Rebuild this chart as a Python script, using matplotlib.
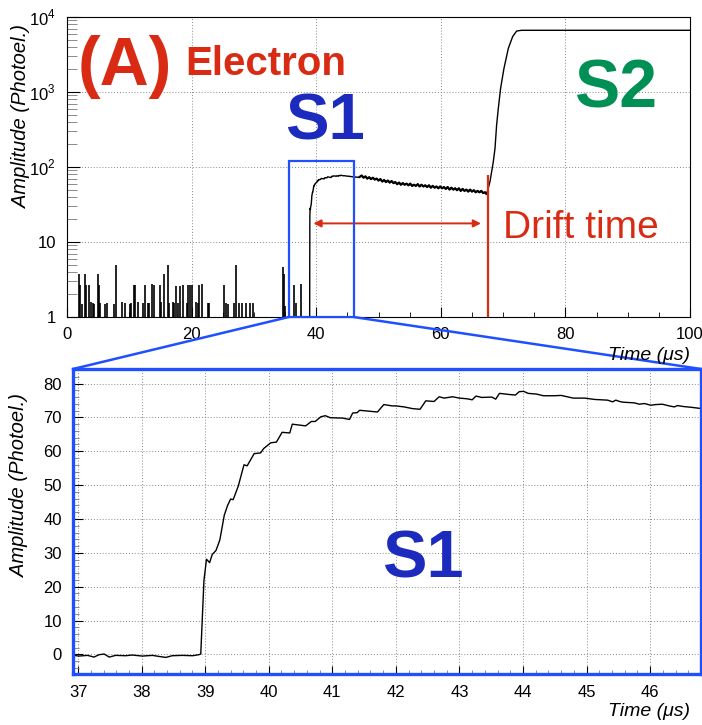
import numpy as np
import matplotlib
matplotlib.use('Agg')
import matplotlib.pyplot as plt
from matplotlib.patches import Rectangle, ConnectionPatch
from matplotlib.ticker import MultipleLocator, FixedLocator, FixedFormatter, LogLocator, NullFormatter

plt.rcParams['font.family'] = ['Liberation Sans', 'DejaVu Sans']
plt.rcParams['mathtext.fontset'] = 'custom'
plt.rcParams['mathtext.rm'] = 'Liberation Sans'

RED = '#d92b14'
BLUE_TXT = '#1c2bbd'
BLUE_BOX = '#1f4fff'
GREEN = '#009055'

# noise spikes before S1 (time in us, amplitude in photoelectrons)
spike_t = [1.98, 2.14, 2.41, 2.94, 3.10, 3.58, 3.85, 4.12, 4.39, 4.92, 5.08, 5.35, 6.15, 6.42,
           7.49, 7.92, 8.83, 9.36, 10.06, 10.27, 10.70, 10.97, 11.40, 12.20, 12.47, 12.95,
           13.22, 13.70, 14.02, 14.87, 15.14, 15.52, 16.16, 16.43, 16.96, 17.23, 17.44, 17.76,
           18.19, 18.62, 19.20, 19.37, 19.74, 20.00, 20.65, 20.97, 21.19, 21.62, 22.58, 22.79,
           25.25, 25.47, 25.79, 26.86, 27.18, 27.60, 28.14, 28.68, 29.37, 29.91, 34.62, 34.83,
           35.00, 36.49, 36.76, 37.56]
spike_v = [3.8, 2.7, 1.5, 3.8, 2.7, 2.7, 1.6, 1.55, 1.5, 3.8, 2.7, 1.55, 1.5, 1.55,
           1.5, 4.9, 1.6, 1.55, 1.5, 1.55, 2.7, 2.7, 1.6, 1.55, 2.7, 1.55,
           1.55, 2.75, 2.7, 2.7, 1.6, 3.8, 4.9, 1.55, 1.6, 1.55, 2.6, 1.55,
           2.6, 2.7, 1.55, 2.7, 2.7, 2.7, 1.6, 1.55, 2.7, 2.75, 1.55, 1.55,
           2.7, 1.55, 1.5, 1.55, 4.9, 1.55, 1.55, 1.55, 1.55, 1.55, 4.7, 3.8,
           1.4, 2.7, 1.55, 2.75]

# S1 region (zoomed waveform)
s1_t = [36.94, 37.01, 37.15, 37.25, 37.33, 37.41, 37.49, 37.59, 37.75, 37.85, 38.01, 38.17,
        38.27, 38.38, 38.48, 38.64, 38.80, 38.90, 38.93, 38.98, 39.02, 39.07, 39.11, 39.17,
        39.23, 39.30, 39.35, 39.40, 39.44, 39.52, 39.61, 39.66, 39.77, 39.87, 39.92, 40.03,
        40.12, 40.21, 40.33, 40.37, 40.58, 40.67, 40.73, 40.82, 40.89, 40.97, 41.16, 41.27,
        41.32, 41.39, 41.43, 41.71, 41.81, 41.94, 42.00, 42.13, 42.26, 42.38, 42.47, 42.60,
        42.68, 42.76, 42.89, 43.00, 43.12, 43.20, 43.26, 43.35, 43.51, 43.57, 43.63, 43.77,
        43.88, 43.94, 44.01, 44.08, 44.21, 44.32, 44.50, 44.60, 44.79, 44.97, 45.13, 45.33,
        45.41, 45.46, 45.52, 45.57, 45.75, 45.83, 45.91, 46.01, 46.09, 46.19, 46.30, 46.38,
        46.43, 46.53, 46.64, 46.77, 46.85]
s1_v = [-0.3, -0.5, -0.3, -0.8, -0.1, 0.1, -0.8, -0.3, -0.4, -0.2, -0.5, -0.3,
        -0.6, -0.9, -0.4, -0.3, -0.4, -0.1, 0.1, 21.8, 28.1, 27.1, 29.5, 30.7,
        33.8, 41.1, 43.9, 45.9, 45.7, 49.7, 56.0, 55.7, 59.3, 59.5, 60.8, 62.5,
        62.7, 65.6, 65.4, 68.0, 67.5, 68.8, 68.8, 70.2, 70.5, 69.9, 69.8, 69.4,
        71.3, 71.4, 72.1, 71.6, 73.8, 73.4, 73.4, 73.1, 72.6, 72.4, 74.9, 74.7,
        76.1, 75.7, 76.1, 75.7, 75.5, 75.2, 76.3, 75.9, 76.0, 75.4, 77.1, 76.8,
        76.6, 77.6, 77.7, 77.1, 76.9, 76.4, 76.4, 76.5, 75.7, 75.7, 75.3, 75.1,
        74.6, 75.1, 74.7, 74.5, 74.3, 73.9, 74.1, 73.6, 73.8, 73.9, 73.4, 73.1,
        73.5, 73.2, 73.0, 72.7, 72.6]

# slow decay of the S1 tail up to the S2 onset
tail_t = [47.0, 47.3, 47.6, 47.9, 48.2, 48.5, 48.8, 49.1, 49.4, 49.7,
          50.0, 50.3, 50.6, 50.9, 51.2, 51.5, 51.8, 52.1, 52.4, 52.7,
          53.0, 53.3, 53.6, 53.9, 54.2, 54.5, 54.8, 55.1, 55.4, 55.7,
          56.0, 56.3, 56.6, 56.9, 57.2, 57.5, 57.8, 58.1, 58.4, 58.7,
          59.0, 59.3, 59.6, 59.9, 60.2, 60.5, 60.8, 61.1, 61.4, 61.7,
          62.0, 62.3, 62.6, 62.9, 63.2, 63.5, 63.8, 64.1, 64.4, 64.7,
          65.0, 65.3, 65.6, 65.9, 66.2, 66.5, 66.8, 67.1, 67.3]
tail_v = [74, 77, 72, 75, 70, 73, 69, 72, 68, 70,
          66, 69, 64, 67, 63, 66, 62, 65, 61, 63,
          59, 62, 58, 61, 58, 60, 57, 60, 56, 58,
          56, 59, 55, 58, 55, 57, 54, 57, 53, 56,
          53, 55, 52, 55, 52, 54, 51, 54, 50, 53,
          50, 52, 49, 52, 48, 51, 48, 50, 47, 50,
          47, 49, 46, 48, 46, 48, 45, 46, 44]

# S2 rise and saturation
s2_t = [67.5, 67.9, 68.43, 68.7, 68.96, 69.23, 69.6, 70.14, 70.84, 71.53, 72.17, 72.98, 100.0]
s2_v = [48, 64, 118, 177, 363, 604, 1120, 2070, 3820, 5470, 6500, 6650, 6650]

top_xticks = [0, 20, 40, 60, 80, 100]
top_yticks = [1, 10, 100, 1000, 10000]
top_ylabels = ['1', '10', '$10^2$', '$10^3$', '$10^4$']
bot_xticks = [37, 38, 39, 40, 41, 42, 43, 44, 45, 46]
bot_yticks = [0, 10, 20, 30, 40, 50, 60, 70, 80]

fig = plt.figure(figsize=(7.02, 7.25), dpi=100)
W, H = 702.0, 725.0

def fx(px):
    return px / W

def fy(py):
    return 1 - py / H

grid_kw = dict(color='#888888', linestyle=(0, (1, 2)), linewidth=0.7)

# ---- top panel (log scale) ----
ax1 = fig.add_axes([fx(67), fy(317), (690 - 67) / W, 300 / H])
ax1.set_yscale('log')
ax1.set_xlim(0, 100)
ax1.set_ylim(1, 10000)
ax1.vlines(spike_t, 0.5, spike_v, color='black', linewidth=1.2)
main_t = np.concatenate([s1_t, tail_t, s2_t])
main_v = np.concatenate([s1_v, tail_v, s2_v])
ax1.plot(main_t, main_v, color='black', linewidth=1.0)
ax1.plot(tail_t, tail_v, color='black', linewidth=1.6)
ax1.xaxis.set_major_locator(FixedLocator(top_xticks))
ax1.xaxis.set_minor_locator(MultipleLocator(5))
ax1.yaxis.set_major_locator(FixedLocator(top_yticks))
ax1.yaxis.set_major_formatter(FixedFormatter(top_ylabels))
ax1.yaxis.set_minor_locator(LogLocator(base=10, subs=np.arange(2, 10)))
ax1.yaxis.set_minor_formatter(NullFormatter())
ax1.tick_params(axis='both', which='both', direction='in', labelsize=12)
ax1.tick_params(axis='y', which='major', length=9, pad=8)
ax1.tick_params(axis='y', which='minor', length=7, color='#777777')
ax1.tick_params(axis='x', which='major', length=7, pad=7)
ax1.tick_params(axis='x', which='minor', length=3.5)
ax1.grid(True, which='major', **grid_kw)

# zoom box and drift time marker
ax1.add_patch(Rectangle((35.6, 1), 46.0 - 35.6, 120 - 1, fill=False,
                        edgecolor=BLUE_BOX, linewidth=1.6, zorder=5, clip_on=False))
ax1.annotate('', xy=(39.1, 17.7), xytext=(66.9, 17.7),
             arrowprops=dict(arrowstyle='<|-|>', color=RED, lw=1.4, mutation_scale=11))
ax1.vlines([67.5], 1, 78, color=RED, linewidth=1.6)

# ---- bottom panel (linear zoom on S1) ----
ax2 = fig.add_axes([fx(73), fy(674), (701 - 73) / W, 305 / H])
ax2.plot(s1_t, s1_v, color='black', linewidth=1.0)
ax2.set_xlim(36.92, 46.8)
ax2.set_ylim(-5.8, 84.3)
ax2.xaxis.set_major_locator(FixedLocator(bot_xticks))
ax2.xaxis.set_minor_locator(MultipleLocator(0.2))
ax2.yaxis.set_major_locator(FixedLocator(bot_yticks))
ax2.yaxis.set_minor_locator(MultipleLocator(2))
ax2.tick_params(axis='both', which='both', direction='in', labelsize=12)
ax2.tick_params(axis='y', which='major', length=7, pad=8)
ax2.tick_params(axis='y', which='minor', length=4, color='#777777')
ax2.tick_params(axis='x', which='major', length=6, pad=8)
ax2.tick_params(axis='x', which='minor', length=3, color='#777777')
ax2.grid(True, which='major', **grid_kw)
for sp in ax2.spines.values():
    sp.set_color(BLUE_BOX)
    sp.set_linewidth(2.4)

for xa, xb in [(35.6, 0), (46.0, 1)]:
    con = ConnectionPatch(xyA=(xa, 1), coordsA=ax1.transData,
                          xyB=(xb, 1), coordsB=ax2.transAxes,
                          color=BLUE_BOX, linewidth=1.8)
    fig.add_artist(con)

# ---- labels and annotations ----
lab_kw = dict(fontsize=14.5, style='italic')
fig.text(fx(22), fy(25), 'Amplitude (Photoel.)', rotation=90, ha='center', va='top', **lab_kw)
fig.text(fx(20), fy(394), 'Amplitude (Photoel.)', rotation=90, ha='center', va='top', **lab_kw)
fig.text(fx(690), fy(355), 'Time (\u03bcs)', ha='right', va='center', fontsize=14, style='italic')
fig.text(fx(690), fy(712), 'Time (\u03bcs)', ha='right', va='center', fontsize=14, style='italic')

fig.text(fx(78), fy(85), '(A)', color=RED, fontsize=49, fontweight='bold', ha='left', va='baseline')
fig.text(fx(185), fy(75), 'Electron', color=RED, fontsize=29, fontweight='bold', ha='left', va='baseline')
fig.text(fx(285), fy(140), 'S1', color=BLUE_TXT, fontsize=47, fontweight='bold', ha='left', va='baseline')
fig.text(fx(574), fy(107), 'S2', color=GREEN, fontsize=49, fontweight='bold', ha='left', va='baseline')
fig.text(fx(503), fy(238), 'Drift time', color=RED, fontsize=28, ha='left', va='baseline')
fig.text(fx(382), fy(578), 'S1', color=BLUE_TXT, fontsize=48, fontweight='bold', ha='left', va='baseline')

fig.savefig('out.png', dpi=100)
